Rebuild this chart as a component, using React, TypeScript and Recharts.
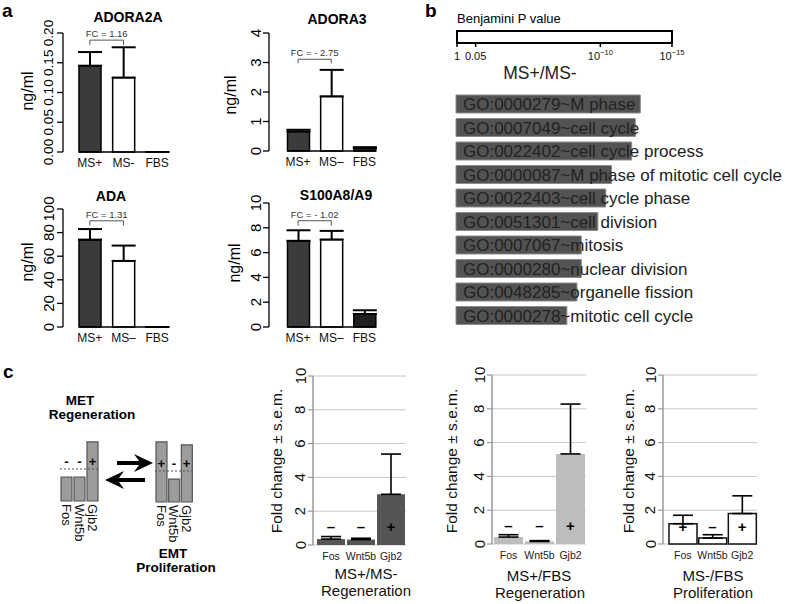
import React from 'react';
import {
  BarChart, Bar, XAxis, YAxis, ErrorBar, ReferenceLine, CartesianGrid,
  ComposedChart, Line, LabelList,
} from 'recharts';

const FONT = '"Liberation Sans", Arial, Helvetica, sans-serif';

// ---------- panel a : secreted proteins (ng/ml), mean and top of s.e.m. whisker
const groups2a = ['MS+', 'MS-', 'FBS'];
const groups = ['MS+', 'MS–', 'FBS'];
const elisaFill = ['#3b3b3b', '#ffffff', '#1f1f1f'];

const adora2aMean = [0.145, 0.125, 0];
const adora2aTop = [0.168, 0.176, 0];
const adora2aTicks = [0, 0.05, 0.1, 0.15, 0.2];

const adora3Mean = [0.66, 1.85, 0.1];
const adora3Top = [0.72, 2.75, 0.13];
const adora3Ticks = [0, 1, 2, 3, 4];

const adaMean = [74, 56, 0];
const adaTop = [83, 69, 0];
const adaTicks = [0, 20, 40, 60, 80, 100];

const s100Mean = [6.95, 7.05, 1.05];
const s100Top = [7.8, 7.75, 1.35];
const s100Ticks = [0, 2, 4, 6, 8, 10];

// ---------- panel b : GO terms, -log10(Benjamini P)
const goTerms = [
  'GO:0000279~M phase',
  'GO:0007049~cell cycle',
  'GO:0022402~cell cycle process',
  'GO:0000087~M phase of mitotic cell cycle',
  'GO:0022403~cell cycle phase',
  'GO:0051301~cell division',
  'GO:0007067~mitosis',
  'GO:0000280~nuclear division',
  'GO:0048285~organelle fission',
  'GO:0000278~mitotic cell cycle',
];
const goLogP = [12.8, 12.45, 12.2, 10.8, 10.4, 9.85, 8.7, 8.7, 8.4, 7.7];
const pScaleMax = [15];
const pTicks = [0, 1.3, 10, 15];
const pTickBase = ['1', '0.05', '10', '10'];
const pTickExp = ['', '', '−10', '−15'];

// ---------- panel c : qPCR fold change
const genes = ['Fos', 'Wnt5b', 'Gjb2'];
const foldTicks = [0, 2, 4, 6, 8, 10];

const metLevel = [0.75, 0.75, 1.85];
const metSigns = ['-', '-', '+'];
const emtLevel = [1.94, 0.74, 1.84];
const emtSigns = ['+', '-', '+'];

const msPlusMinusMean = [0.35, 0.32, 3.0];
const msPlusMinusTop = [0.5, 0.4, 5.38];
const msPlusMinusSigns = ['–', '–', '+'];

const msPlusFbsMean = [0.41, 0.15, 5.33];
const msPlusFbsTop = [0.55, 0.2, 8.28];
const msPlusFbsSigns = ['–', '–', '+'];

const msMinusFbsMean = [1.2, 0.35, 1.8];
const msMinusFbsTop = [1.7, 0.55, 2.85];
const msMinusFbsSigns = ['+', '–', '+'];

// ---------- helpers
type Box = { left: number; top: number; width: number; height: number };
type Plot = { x0: number; x1: number; y0: number; y1: number };

const marginFor = (b: Box, p: Plot, yW: number, xH: number) => ({
  left: p.x0 - b.left - yW,
  right: b.left + b.width - p.x1,
  top: p.y0 - b.top,
  bottom: b.top + b.height - p.y1 - xH,
});

const rotTick = (fontSize: number, fmt: (v: number) => string, fill = '#000') => (p: any) => (
  <text x={p.x} y={p.y} transform={`rotate(-90 ${p.x} ${p.y})`} textAnchor="middle"
    fontSize={fontSize} fill={fill} fontFamily={FONT}>{fmt(p.payload.value)}</text>
);

const catTick = (fontSize: number, fill = '#111') => (p: any) => (
  <text x={p.x} y={p.y} dy="0.71em" textAnchor="middle" fontSize={fontSize} fill={fill}
    fontFamily={FONT}>{p.payload.value}</text>
);

const downTick = (fontSize: number) => (p: any) => {
  const bx = p.x - fontSize * 0.36;
  return (
    <text x={bx} y={p.y} transform={`rotate(90 ${bx} ${p.y})`} textAnchor="start"
      fontSize={fontSize} fill="#111" fontFamily={FONT}>{p.payload.value}</text>
  );
};

const signDot = (signs: string[], size: number) => (p: any) => (
  <text key={`s${p.index}`} x={p.cx} y={p.cy} dy="0.32em" textAnchor="middle" fontSize={size}
    fontWeight="bold" fill="#000" fontFamily={FONT}>{signs[p.index]}</text>
);

// R-style bar: outlined rectangle, with the baseline joined to the previous bar
const elisaShape = (gap: number) => (p: any) => {
  const { x, y, width, height, index } = p;
  const yb = y + height;
  return (
    <g>
      {height > 0.5 ? (
        <rect x={x} y={y} width={width} height={height} fill={elisaFill[index]} stroke="#000" strokeWidth={1.5} />
      ) : null}
      <line x1={x - (index > 0 ? gap : 0)} x2={x + width} y1={yb} y2={yb} stroke="#000" strokeWidth={1.5} />
    </g>
  );
};

function ElisaChart(props: {
  box: Box; plot: Plot; pad: number; cats: string[]; mean: number[]; top: number[];
  ticks: number[]; digits: number; tickFont: number; tickGap: number;
  fc: string; fcAt: number; fcTip: number;
}) {
  const { box, plot, pad, cats, mean, top, ticks, digits, tickFont, tickGap, fc, fcAt, fcTip } = props;
  const data = cats.map((g, i) => ({ g, v: mean[i], e: [0, top[i] - mean[i]] }));
  const yW = 50, xH = 22;
  const band = (plot.x1 - plot.x0 - pad) / cats.length;
  return (
    <div style={{ position: 'absolute', left: box.left, top: box.top }}>
      <BarChart width={box.width} height={box.height} data={data} margin={marginFor(box, plot, yW, xH)}>
        <XAxis dataKey="g" axisLine={false} tickLine={false} tickSize={0} tickMargin={6} height={xH}
          padding={{ left: pad, right: 0 }} interval={0} tick={catTick(12)} />
        <YAxis type="number" domain={[0, ticks[ticks.length - 1]]} ticks={ticks} width={yW} interval={0}
          axisLine={{ stroke: '#000', strokeWidth: 1.3 }} tickLine={{ stroke: '#000', strokeWidth: 1.3 }}
          tickSize={6} tickMargin={tickGap} tick={rotTick(tickFont, (v) => v.toFixed(digits))} />
        <Bar dataKey="v" barSize={22} isAnimationActive={false} shape={elisaShape(band - 22)}>
          <ErrorBar dataKey="e" width={12} stroke="#000" strokeWidth={2} />
        </Bar>
        <ReferenceLine segment={[{ x: cats[0], y: fcAt }, { x: cats[1], y: fcAt }]} stroke="#555" strokeWidth={1}
          label={{ value: fc, position: 'top', offset: 3, fontSize: 9.5, fill: '#333', fontFamily: FONT }} />
        <ReferenceLine segment={[{ x: cats[0], y: fcAt }, { x: cats[0], y: fcTip }]} stroke="#555" strokeWidth={1} />
        <ReferenceLine segment={[{ x: cats[1], y: fcAt }, { x: cats[1], y: fcTip }]} stroke="#555" strokeWidth={1} />
      </BarChart>
    </div>
  );
}

function FoldChart(props: {
  box: Box; plot: Plot; pad: number; mean: number[]; top: number[]; signs: string[];
  signAt: number; fill: string; stroke: string;
}) {
  const { box, plot, pad, mean, top, signs, signAt, fill, stroke } = props;
  const data = genes.map((g, i) => ({ g, v: mean[i], e: [0, top[i] - mean[i]], s: signAt }));
  const yW = 40, xH = 15;
  return (
    <div style={{ position: 'absolute', left: box.left, top: box.top }}>
      <ComposedChart width={box.width} height={box.height} data={data} margin={marginFor(box, plot, yW, xH)}
        barCategoryGap={1}>
        <CartesianGrid vertical={false} stroke="#c6c6c6" strokeWidth={1} />
        <XAxis dataKey="g" axisLine={false} tickLine={false} tickSize={0} tickMargin={8} height={xH}
          padding={{ left: pad, right: 0 }} interval={0} tick={catTick(10.5, '#222')} />
        <YAxis type="number" domain={[0, 10]} ticks={foldTicks} width={yW} interval={0}
          axisLine={{ stroke: '#9a9a9a', strokeWidth: 1.5 }} tickLine={{ stroke: '#9a9a9a', strokeWidth: 1.2 }}
          tickSize={5} tickMargin={2.5} tick={rotTick(15, (v) => String(v), '#111')} />
        <Bar dataKey="v" fill={fill} stroke={stroke} strokeWidth={stroke === 'none' ? 0 : 1.5} isAnimationActive={false}>
          <ErrorBar dataKey="e" width={10} stroke="#000" strokeWidth={1.6} />
        </Bar>
        <Line dataKey="s" stroke="none" dot={signDot(signs, 15)} activeDot={false} isAnimationActive={false} legendType="none" />
      </ComposedChart>
    </div>
  );
}

function Schematic(props: { box: Box; plot: Plot; level: number[]; signs: string[] }) {
  const { box, plot, level, signs } = props;
  const data = genes.map((g, i) => ({ g, v: level[i], s: 1.22 }));
  const xH = 48;
  return (
    <div style={{ position: 'absolute', left: box.left, top: box.top }}>
      <ComposedChart width={box.width} height={box.height} data={data} margin={marginFor(box, plot, 0, xH)}>
        <XAxis dataKey="g" axisLine={false} tickLine={false} tickSize={0} tickMargin={3} height={xH}
          interval={0} tick={downTick(13)} />
        <YAxis type="number" domain={[0, 2]} hide />
        <Bar dataKey="v" barSize={11} fill="#9c9c9c" stroke="#555" strokeWidth={1.2} isAnimationActive={false} />
        <ReferenceLine y={1} stroke="#555" strokeDasharray="2 2" strokeWidth={1} />
        <Line dataKey="s" stroke="none" dot={signDot(signs, 13)} activeDot={false} isAnimationActive={false} legendType="none" />
      </ComposedChart>
    </div>
  );
}

function GoPanel() {
  const data = goTerms.map((t, i) => ({ t, v: goLogP[i] }));
  const scale = [{ k: 'P', v: pScaleMax[0] }];
  const barBox = { left: 420, top: 88, width: 367, height: 245 };
  const barPlot = { x0: 456, x1: 672, y0: 92, y1: 327 };
  const keyBox = { left: 420, top: 20, width: 367, height: 50 };
  const keyPlot = { x0: 457, x1: 672, y0: 31, y1: 43 };
  return (
    <>
      <div style={{ position: 'absolute', left: keyBox.left, top: keyBox.top }}>
        <BarChart layout="vertical" width={keyBox.width} height={keyBox.height} data={scale}
          margin={marginFor(keyBox, keyPlot, 0, 7)} barCategoryGap={0}>
          <XAxis type="number" domain={[0, 15]} ticks={pTicks} interval={0} axisLine={false} height={7}
            tickLine={{ stroke: '#000', strokeWidth: 1.5 }} tickSize={4} tickMargin={5}
            tick={(p: any) => {
              const i = pTicks.indexOf(p.payload.value);
              return (
                <text x={p.x} y={p.y} dy="0.71em" textAnchor="middle" fontSize={11} fill="#111" fontFamily={FONT}>
                  <tspan>{pTickBase[i]}</tspan>
                  {pTickExp[i] ? <tspan dy={-5} fontSize={7.5}>{pTickExp[i]}</tspan> : null}
                </text>
              );
            }} />
          <YAxis type="category" dataKey="k" hide />
          <Bar dataKey="v" fill="#fff" stroke="#000" strokeWidth={2} isAnimationActive={false} />
        </BarChart>
      </div>
      <div style={{ position: 'absolute', left: barBox.left, top: barBox.top }}>
        <BarChart layout="vertical" width={barBox.width} height={barBox.height} data={data}
          margin={marginFor(barBox, barPlot, 0, 0)}>
          <XAxis type="number" domain={[0, 15]} hide />
          <YAxis type="category" dataKey="t" hide />
          <Bar dataKey="v" barSize={18} fill="#535353" stroke="#8c8c8c" strokeWidth={1} isAnimationActive={false}>
            <LabelList dataKey="t" content={(p: any) => (
              <text x={p.x + 7} y={p.y + p.height / 2} dy="0.36em" fontSize={17} fill="#222" fontFamily={FONT}>
                {p.value}
              </text>
            )} />
          </Bar>
        </BarChart>
      </div>
    </>
  );
}

const T = (p: { x: number; y: number; s: number; b?: boolean; a?: 'start' | 'middle' | 'end'; r?: number; c?: string; children: React.ReactNode }) => (
  <text x={p.x} y={p.y} fontSize={p.s} fontWeight={p.b ? 'bold' : 'normal'} textAnchor={p.a || 'middle'}
    fill={p.c || '#000'} fontFamily={FONT} transform={p.r ? `rotate(${p.r} ${p.x} ${p.y})` : undefined}>
    {p.children}
  </text>
);

export default function App() {
  return (
    <div style={{ position: 'absolute', left: 0, top: 0, width: 787, height: 604, background: '#fff', fontFamily: FONT }}>
      <ElisaChart box={{ left: 0, top: 0, width: 190, height: 180 }} plot={{ x0: 63, x1: 174, y0: 33, y1: 152 }}
        pad={10} cats={groups2a} mean={adora2aMean} top={adora2aTop} ticks={adora2aTicks} digits={2}
        tickFont={13.5} tickGap={4} fc="FC = 1.16" fcAt={0.188} fcTip={0.18} />
      <ElisaChart box={{ left: 190, top: 0, width: 220, height: 180 }} plot={{ x0: 269, x1: 381, y0: 33, y1: 151 }}
        pad={12.5} cats={groups} mean={adora3Mean} top={adora3Top} ticks={adora3Ticks} digits={0}
        tickFont={15} tickGap={2} fc="FC = - 2.75" fcAt={3.11} fcTip={2.97} />
      <ElisaChart box={{ left: 0, top: 180, width: 190, height: 175 }} plot={{ x0: 63, x1: 174, y0: 209, y1: 327 }}
        pad={10} cats={groups} mean={adaMean} top={adaTop} ticks={adaTicks} digits={0}
        tickFont={15} tickGap={3} fc="FC = 1.31" fcAt={90} fcTip={86} />
      <ElisaChart box={{ left: 190, top: 180, width: 220, height: 175 }} plot={{ x0: 269, x1: 381, y0: 203, y1: 327 }}
        pad={12.5} cats={groups} mean={s100Mean} top={s100Top} ticks={s100Ticks} digits={0}
        tickFont={15} tickGap={2} fc="FC = - 1.02" fcAt={8.57} fcTip={8.17} />

      <GoPanel />

      <Schematic box={{ left: 40, top: 425, width: 70, height: 130 }} plot={{ x0: 60, x1: 99, y0: 437, y1: 501 }}
        level={metLevel} signs={metSigns} />
      <Schematic box={{ left: 135, top: 425, width: 70, height: 130 }} plot={{ x0: 155, x1: 193, y0: 440, y1: 502 }}
        level={emtLevel} signs={emtSigns} />

      <FoldChart box={{ left: 255, top: 360, width: 155, height: 205 }} plot={{ x0: 313, x1: 406, y0: 376, y1: 545 }}
        pad={3} mean={msPlusMinusMean} top={msPlusMinusTop} signs={msPlusMinusSigns} signAt={1.05}
        fill="#555555" stroke="none" />
      <FoldChart box={{ left: 440, top: 360, width: 150, height: 205 }} plot={{ x0: 492, x1: 586, y0: 375, y1: 544 }}
        pad={1} mean={msPlusFbsMean} top={msPlusFbsTop} signs={msPlusFbsSigns} signAt={1.08}
        fill="#bdbdbd" stroke="none" />
      <FoldChart box={{ left: 610, top: 360, width: 177, height: 205 }} plot={{ x0: 663, x1: 757, y0: 375, y1: 544 }}
        pad={5} mean={msMinusFbsMean} top={msMinusFbsTop} signs={msMinusFbsSigns} signAt={1.0}
        fill="#ffffff" stroke="#111" />

      <svg width={787} height={604} style={{ position: 'absolute', left: 0, top: 0, pointerEvents: 'none' }}>
        <T x={2} y={17} s={19} b a="start">a</T>
        <T x={425} y={17} s={19} b a="start">b</T>
        <T x={3} y={378} s={19} b a="start">c</T>

        <T x={128} y={21.5} s={14} b>ADORA2A</T>
        <T x={337} y={24} s={14} b>ADORA3</T>
        <T x={111} y={200.5} s={14} b>ADA</T>
        <T x={336} y={200} s={14} b>S100A8/A9</T>
        <T x={33} y={91} s={16} r={-90}>ng/ml</T>
        <T x={236} y={95} s={16} r={-90}>ng/ml</T>
        <T x={33} y={262} s={16} r={-90}>ng/ml</T>
        <T x={240} y={263} s={16} r={-90}>ng/ml</T>

        <T x={457} y={23} s={13} a="start">Benjamini P value</T>
        <T x={540} y={79} s={17.5} c="#222">MS+/MS-</T>

        <T x={80} y={405} s={13.5} b>MET</T>
        <T x={92} y={419} s={13.5} b>Regeneration</T>
        <T x={173} y={558} s={13.5} b>EMT</T>
        <T x={176} y={572} s={13.5} b>Proliferation</T>
        <polygon points="117,461 139,461 134,454 153,463 134,472 139,465 117,465" fill="#000" />
        <polygon points="145,478 119,478 124,471 105,480 124,489 119,482 145,482" fill="#000" />

        <T x={281.5} y={461} s={15.5} r={-90} c="#111">Fold change ± s.e.m.</T>
        <T x={456.5} y={461} s={15.5} r={-90} c="#111">Fold change ± s.e.m.</T>
        <T x={634} y={461} s={15.5} r={-90} c="#111">Fold change ± s.e.m.</T>
        <T x={366} y={579} s={15} c="#111">MS+/MS-</T>
        <T x={366} y={596} s={15} c="#111">Regeneration</T>
        <T x={539} y={581} s={15} c="#111">MS+/FBS</T>
        <T x={540} y={598} s={15} c="#111">Regeneration</T>
        <T x={713} y={581} s={15} c="#111">MS-/FBS</T>
        <T x={713} y={598} s={15} c="#111">Proliferation</T>
      </svg>
    </div>
  );
}
